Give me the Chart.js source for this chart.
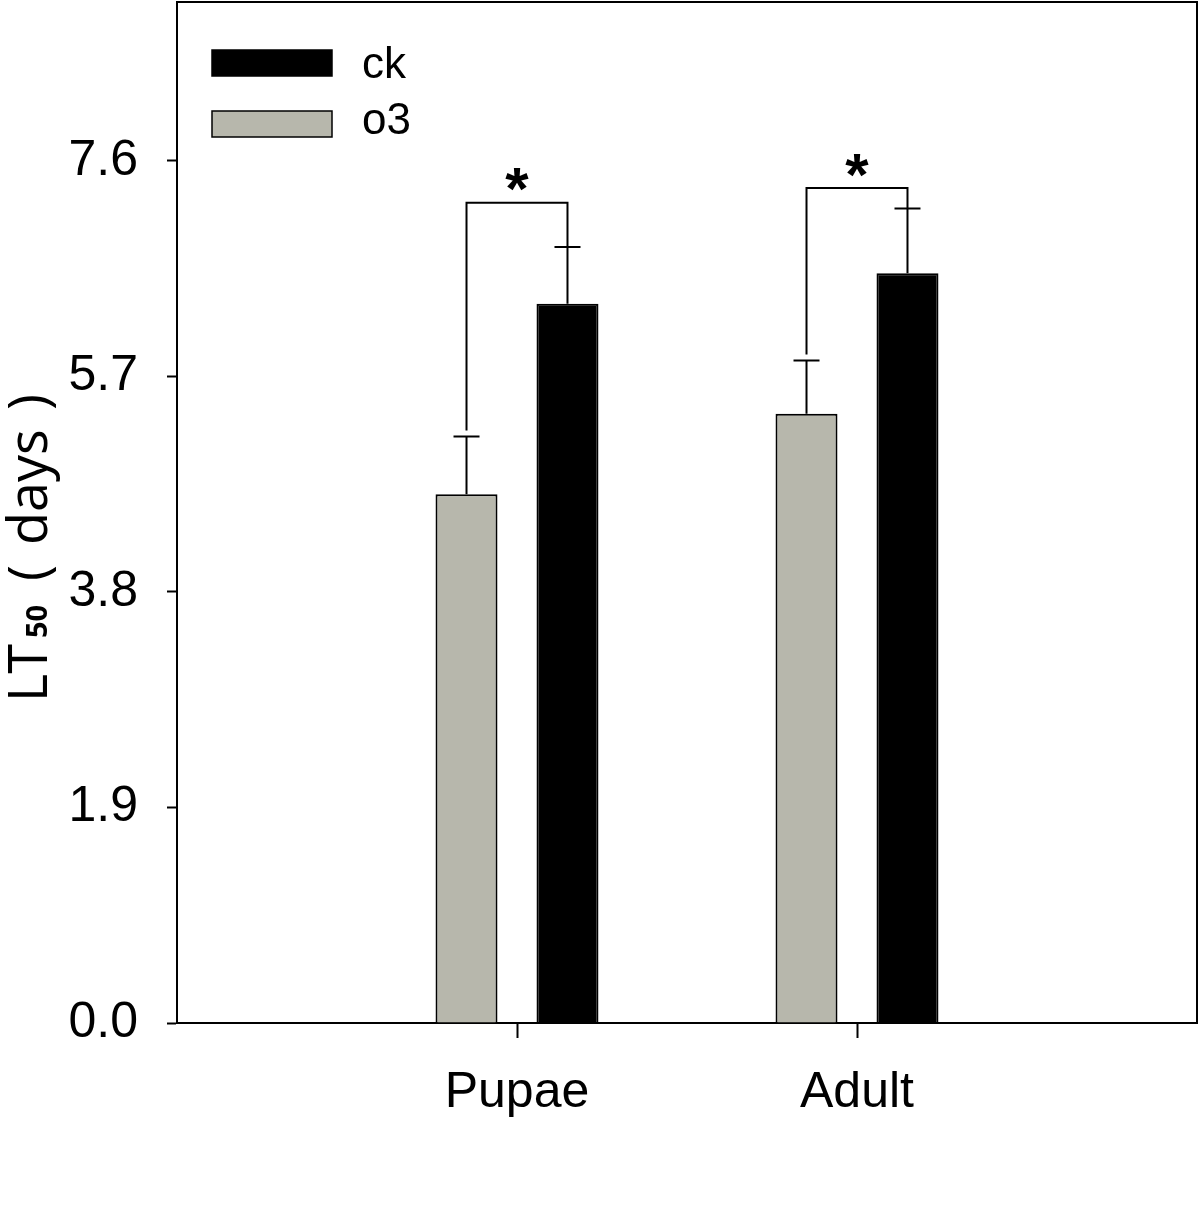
<!DOCTYPE html>
<html>
<head>
<meta charset="utf-8">
<script src="https://cdn.jsdelivr.net/npm/chart.js@4.4.1/dist/chart.umd.min.js"></script>
<style>
  html, body { margin: 0; padding: 0; background: #fff; }
  #wrap { width: 1200px; height: 1229px; }
</style>
</head>
<body>
<div id="wrap"><canvas id="chart"></canvas></div>
<script>
// ===== Datos =====
const categories = ["Pupae", "Adult"];
const o3Values = [4.66, 5.37];
const o3Errors = [0.51, 0.47];
const ckValues = [6.34, 6.61];
const ckErrors = [0.50, 0.57];
const sigLevels = [7.23, 7.36];
const sigMarks = ["*", "*"];
const yTicks = [0, 1.9, 3.8, 5.7, 7.6];

const FONT = "'Liberation Sans', Arial, sans-serif";
const GRAY = "#b7b7ac";

// empty slots at both ends put the groups at 1/3 and 2/3 of the width
const labels = ["", ...categories, ""];
const pad = (arr) => [null, ...arr, null];

// ===== Error bars, brackets, frame, legend, y title =====
const overlay = {
  id: "overlay",
  afterDatasetsDraw(chart) {
    const { ctx, chartArea, scales } = chart;
    const y = scales.y;
    const errs = [o3Errors, ckErrors];
    const vals = [o3Values, ckValues];

    ctx.save();
    ctx.strokeStyle = "#000";
    ctx.lineWidth = 2;

    // frame top + right
    ctx.beginPath();
    ctx.moveTo(chartArea.left, chartArea.top);
    ctx.lineTo(chartArea.right, chartArea.top);
    ctx.lineTo(chartArea.right, chartArea.bottom);
    ctx.stroke();

    const tops = [[], []];
    const xs = [[], []];
    [0, 1].forEach((d) => {
      const meta = chart.getDatasetMeta(d);
      categories.forEach((c, k) => {
        const bar = meta.data[k + 1];
        const yTop = y.getPixelForValue(vals[d][k] + errs[d][k]);
        tops[d][k] = yTop;
        xs[d][k] = bar.x;
        ctx.beginPath();
        ctx.moveTo(bar.x, bar.y);
        ctx.lineTo(bar.x, yTop);
        ctx.moveTo(bar.x - 13, yTop);
        ctx.lineTo(bar.x + 13, yTop);
        ctx.stroke();
      });
    });

    // significance brackets
    ctx.fillStyle = "#000";
    ctx.font = "bold 60px " + FONT;
    ctx.textAlign = "center";
    ctx.textBaseline = "alphabetic";
    categories.forEach((c, k) => {
      const yb = y.getPixelForValue(sigLevels[k]);
      ctx.beginPath();
      ctx.moveTo(xs[0][k], tops[0][k] - 6);
      ctx.lineTo(xs[0][k], yb);
      ctx.lineTo(xs[1][k], yb);
      ctx.lineTo(xs[1][k], tops[1][k]);
      ctx.stroke();
      const m = ctx.measureText(sigMarks[k]);
      const cy = yb - 23;
      const mx = (xs[0][k] + xs[1][k]) / 2;
      ctx.fillText(sigMarks[k], mx, cy + (m.actualBoundingBoxAscent - m.actualBoundingBoxDescent) / 2);
    });

    // legend (ck first, then o3)
    const lx = chartArea.left + 35;
    const rows = [
      { label: chart.data.datasets[1].label, fill: "#000", top: 50, base: 78 },
      { label: chart.data.datasets[0].label, fill: GRAY, top: 111, base: 134 },
    ];
    ctx.textAlign = "left";
    ctx.font = "44px " + FONT;
    ctx.lineWidth = 1.5;
    rows.forEach((r) => {
      ctx.fillStyle = r.fill;
      ctx.fillRect(lx, r.top, 120, 26);
      ctx.strokeRect(lx, r.top, 120, 26);
      ctx.fillStyle = "#000";
      ctx.fillText(r.label, lx + 150, r.base);
    });
    ctx.restore();

    // y axis title with subscript
    ctx.save();
    ctx.translate(47, 702);
    ctx.rotate(-Math.PI / 2);
    ctx.fillStyle = "#000";
    ctx.textAlign = "left";
    ctx.textBaseline = "alphabetic";
    ctx.font = "54px 'Open Sans', sans-serif";
    ctx.fillText("LT", 0, 0);
    ctx.fillText("(", 121, 0);
    ctx.fillText("days", 157, 0);
    ctx.fillText(")", 292, 0);
    ctx.font = "bold 29px 'Open Sans', sans-serif";
    ctx.fillText("50", 64, 0);
    ctx.restore();
  },
};

new Chart(document.getElementById("chart"), {
  type: "bar",
  data: {
    labels: labels,
    datasets: [
      {
        label: "o3",
        data: pad(o3Values),
        backgroundColor: GRAY,
        borderColor: "#000",
        borderWidth: 2,
        borderSkipped: "bottom",
      },
      {
        label: "ck",
        data: pad(ckValues),
        backgroundColor: "#000",
        borderColor: "#000",
        borderWidth: 2,
        borderSkipped: "bottom",
      },
    ],
  },
  options: {
    responsive: true,
    maintainAspectRatio: false,
    animation: false,
    devicePixelRatio: 1,
    categoryPercentage: 0.594,
    barPercentage: 0.614,
    layout: { padding: { top: 2, right: 3, left: 0, bottom: 0 } },
    plugins: {
      legend: { display: false },
      tooltip: { enabled: false },
    },
    scales: {
      x: {
        type: "category",
        offset: false,
        grid: {
          offset: false,
          drawOnChartArea: false,
          drawTicks: true,
          tickLength: 15,
          tickWidth: 2,
          tickColor: (c) => (c.index === 0 || c.index === labels.length - 1 ? "rgba(0,0,0,0)" : "#000"),
        },
        border: { color: "#000", width: 2 },
        ticks: {
          color: "#000",
          font: { family: FONT, size: 50 },
          padding: 25,
          autoSkip: false,
          maxRotation: 0,
        },
        afterFit: (s) => {
          s.height = 206;
          s.paddingLeft = 0;
          s.paddingRight = 0;
        },
      },
      y: {
        min: 0,
        max: 9,
        afterBuildTicks: (s) => { s.ticks = yTicks.map((v) => ({ value: v })); },
        grid: {
          drawOnChartArea: false,
          tickLength: 10,
          tickWidth: 2,
          tickColor: "#000",
        },
        border: { color: "#000", width: 2 },
        ticks: {
          color: "#000",
          font: { family: FONT, size: 50 },
          padding: 29,
          callback: (v) => Number(v).toFixed(1),
        },
        afterFit: (s) => {
          s.width = 177;
          s.paddingTop = 0;
          s.paddingBottom = 0;
        },
      },
    },
  },
  plugins: [overlay],
});
</script>
</body>
</html>
